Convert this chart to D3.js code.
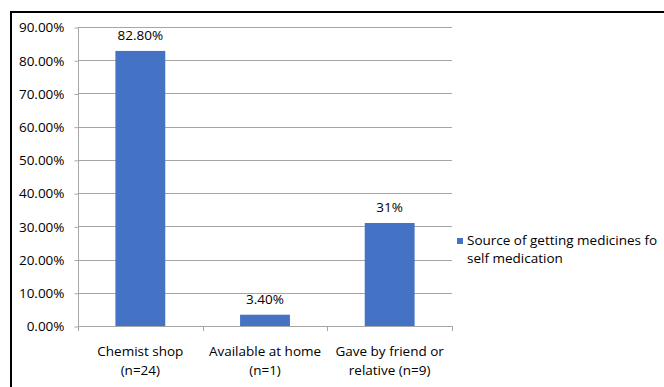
<!DOCTYPE html>
<html>
<head>
<meta charset="utf-8">
<script src="https://cdn.jsdelivr.net/npm/d3@7"></script>
<style>
  body { margin: 0; background: #fff; }
  text { font-family: "Open Sans", "Noto Sans", sans-serif; }
</style>
</head>
<body>
<div id="chart"></div>
<script>
var categories = [["Chemist shop", "(n=24)"], ["Available at home", "(n=1)"], ["Gave by friend or", "relative (n=9)"]];
var values = [82.8, 3.4, 31];
var valueLabels = ["82.80%", "3.40%", "31%"];
var yTicks = [0, 10, 20, 30, 40, 50, 60, 70, 80, 90];
var seriesName = ["Source of getting medicines fo", "self medication"];

var width = 664, height = 387;
var svg = d3.select("#chart").append("svg")
    .attr("width", width).attr("height", height);

var barColor = "#4472c4";
var gridColor = "#a6a6a6";
var fontSize = "13.5px";

// outer frame
svg.append("line").attr("x1", 11).attr("x2", width).attr("y1", 12).attr("y2", 12)
    .attr("stroke", "#000").attr("stroke-width", 2);
svg.append("line").attr("x1", 11).attr("x2", 11).attr("y1", 11).attr("y2", height)
    .attr("stroke", "#000").attr("stroke-width", 2);

var plot = { left: 78, right: 452, top: 27, bottom: 326 };

var x = d3.scaleBand()
    .domain(d3.range(categories.length))
    .range([plot.left, plot.right])
    .paddingInner(0.6).paddingOuter(0.3);

var y = d3.scaleLinear().domain([0, 90]).range([plot.bottom, plot.top]);

// gridlines
svg.append("g").selectAll("line").data(yTicks.slice(1)).enter().append("line")
    .attr("x1", plot.left).attr("x2", plot.right)
    .attr("y1", function(d) { return Math.round(y(d)) + 0.5; })
    .attr("y2", function(d) { return Math.round(y(d)) + 0.5; })
    .attr("stroke", gridColor).attr("stroke-width", 1);

// y axis
var yAxis = svg.append("g")
    .attr("transform", "translate(" + (plot.left + 0.5) + ",0.5)")
    .call(d3.axisLeft(y).tickValues(yTicks).tickSize(4).tickPadding(10)
      .tickFormat(function(d) { return d.toFixed(2) + "%"; }));
yAxis.select(".domain").attr("stroke", gridColor).attr("d", "M0," + plot.top + "V" + plot.bottom);
yAxis.selectAll(".tick line").attr("stroke", gridColor);
yAxis.selectAll(".tick text").attr("fill", "#000").style("font-size", fontSize)
    .style("font-family", "'Open Sans', sans-serif");

// bars
svg.append("g").selectAll("rect").data(values).enter().append("rect")
    .attr("x", function(d, i) { return x(i); })
    .attr("width", x.bandwidth())
    .attr("y", function(d) { return y(d); })
    .attr("height", function(d) { return plot.bottom - y(d); })
    .attr("fill", barColor);

// x axis
var tickPos = d3.range(categories.length + 1).map(function(i) { return plot.left + i * (plot.right - plot.left) / categories.length; });
svg.append("line").attr("x1", plot.left).attr("x2", plot.right)
    .attr("y1", plot.bottom + 0.5).attr("y2", plot.bottom + 0.5)
    .attr("stroke", gridColor);
svg.append("g").selectAll("line").data(tickPos).enter().append("line")
    .attr("x1", function(d) { return Math.round(d) + 0.5; })
    .attr("x2", function(d) { return Math.round(d) + 0.5; })
    .attr("y1", plot.bottom).attr("y2", plot.bottom + 5)
    .attr("stroke", gridColor);

var xl = svg.append("g").selectAll("text").data(categories).enter().append("text")
    .attr("text-anchor", "middle")
    .attr("x", function(d, i) { return x(i) + x.bandwidth() / 2; })
    .attr("y", 356)
    .style("font-size", fontSize)
    .attr("fill", "#000");
xl.append("tspan").attr("x", function(d, i) { return x(i) + x.bandwidth() / 2; })
    .text(function(d) { return d[0]; });
xl.append("tspan").attr("x", function(d, i) { return x(i) + x.bandwidth() / 2; })
    .attr("dy", 19).text(function(d) { return d[1]; });

// value labels
svg.append("g").selectAll("text").data(values).enter().append("text")
    .attr("text-anchor", "middle")
    .attr("x", function(d, i) { return x(i) + x.bandwidth() / 2; })
    .attr("y", function(d) { return y(d) - 11; })
    .style("font-size", fontSize)
    .attr("fill", "#000")
    .text(function(d, i) { return valueLabels[i]; });

// legend
svg.append("rect").attr("x", 457).attr("y", 238).attr("width", 6).attr("height", 6).attr("fill", barColor);
svg.append("g").selectAll("text").data(seriesName).enter().append("text")
    .attr("x", 467)
    .attr("y", function(d, i) { return 245 + i * 18; })
    .style("font-size", fontSize)
    .attr("fill", "#000")
    .text(function(d) { return d; });
</script>
</body>
</html>
